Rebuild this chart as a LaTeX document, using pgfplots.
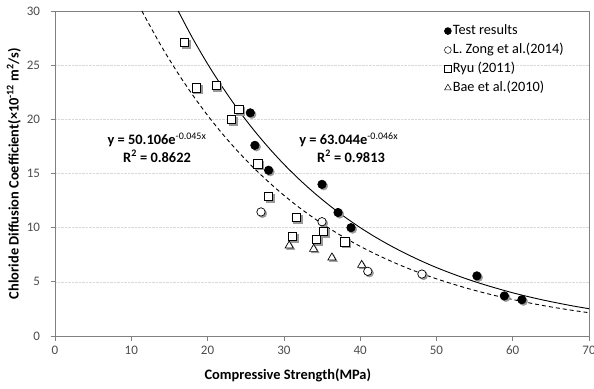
\documentclass[border=0pt]{standalone}
\usepackage{fontspec}
\setmainfont{Carlito}
\usepackage{pgfplots}
\usepackage{pgfplotstable}
\pgfplotsset{compat=1.18}

\pgfplotstableread{
x y
25.6 20.6
26.2 17.6
28.0 15.3
35.0 14.0
37.1 11.4
38.8 10.0
55.3 5.55
58.9 3.7
61.2 3.35
}\testdata
\pgfplotstableread{
x y
27.0 11.45
35.0 10.55
41.0 5.97
48.1 5.72
}\zongdata
\pgfplotstableread{
x y
17.0 27.1
18.5 22.9
21.1 23.1
24.1 20.9
23.1 20.0
26.6 15.9
28.0 12.9
31.6 10.95
31.1 9.2
35.2 9.63
34.3 8.93
38.0 8.7
}\ryudata
\pgfplotstableread{
x y
30.7 8.34
33.9 8.03
36.3 7.23
40.2 6.55
}\baedata
\pgfplotstableread{
x y
16.15 30.0
18 27.54
20 25.12
22 22.92
24 20.90
26 19.06
28 17.39
30 15.86
32 14.47
34 13.20
36 12.04
38 10.98
40 10.01
42 9.13
44 8.33
46 7.60
48 6.93
50 6.32
52 5.77
54 5.26
56 4.80
58 4.38
60 3.99
62 3.64
64 3.32
66 3.03
68 2.76
70 2.52
}\fitA
\pgfplotstableread{
x y
11.4 30.0
12 29.20
14 26.68
16 24.39
18 22.29
20 20.37
22 18.62
24 17.02
26 15.55
28 14.22
30 12.99
32 11.87
34 10.85
36 9.92
38 9.06
40 8.28
42 7.57
44 6.92
46 6.32
48 5.78
50 5.28
52 4.83
54 4.41
56 4.03
58 3.68
60 3.37
62 3.08
64 2.81
66 2.57
68 2.35
70 2.15
}\fitB

\begin{document}
\begin{tikzpicture}
\begin{axis}[
  scale only axis,
  width=534pt, height=325pt,
  xmin=0, xmax=70, ymin=0, ymax=30,
  xtick={0,10,...,70}, ytick={0,5,...,30},
  xtick pos=bottom, ytick pos=left,
  tick align=outside, major tick length=4.5pt,
  axis line style={black!50, line width=0.7pt},
  tick style={black!50, line width=0.7pt},
  ymajorgrids, grid style={densely dotted, black!15},
  /pgf/number format/assume math mode=true,
  ticklabel style={font=\fontsize{13}{15}\selectfont, text=black!70},
  xticklabel style={yshift=-2pt},
  yticklabel style={xshift=-7pt},
  xlabel={\textbf{Compressive Strength(MPa)}},
  ylabel={\textbf{Chloride Diffusion Coefficient(×10\textsuperscript{-12} m\textsuperscript{2}/s)}},
  label style={font=\fontsize{14.4}{16}\selectfont},
  xlabel style={at={(axis description cs:0.436,-0.12)}, anchor=center},
  ylabel style={at={(axis description cs:-0.077,0.5)}, anchor=center},
  legend style={draw=none, fill=none, inner sep=0pt, at={(0.729,0.962)}, anchor=north west,
    font=\fontsize{14.3}{16}\selectfont, row sep=4pt,
    nodes={inner xsep=1.5pt, inner ysep=1pt, text height=10pt, text depth=3pt}},
  legend cell align=left,
  legend image code/.code={\draw[#1] plot coordinates {(0pt,0pt)};},
]
\coordinate (ll) at (rel axis cs:0,0);
\coordinate (ur) at (rel axis cs:1,1);
% fits
\addplot[black, line width=0.9pt, smooth, forget plot] table[x=x,y=y] {\fitA};
\addplot[black, line width=0.9pt, dash pattern=on 4pt off 3pt, smooth, forget plot] table[x=x,y=y] {\fitB};
% shadows
\addplot[only marks, mark=*, mark size=4.2pt, draw=black!40, fill=black!40,
  mark options={xshift=1.6pt, yshift=-1.6pt}, forget plot] table[x=x,y=y] {\testdata};
\addplot[only marks, mark=*, mark size=4.2pt, draw=black!40, fill=black!40,
  mark options={xshift=1.6pt, yshift=-1.6pt}, forget plot] table[x=x,y=y] {\zongdata};
\addplot[only marks, mark=square*, mark size=4.1pt, draw=black!40, fill=black!40,
  mark options={xshift=1.6pt, yshift=-1.6pt}, forget plot] table[x=x,y=y] {\ryudata};
\addplot[only marks, mark=triangle*, mark size=4.7pt, draw=black!40, fill=black!40,
  mark options={xshift=1.6pt, yshift=-1.6pt}, forget plot] table[x=x,y=y] {\baedata};
% data
\addplot[only marks, mark=*, mark size=4.2pt, draw=black, fill=black, line width=0.7pt,
  legend image post style={mark size=3.4pt}] table[x=x,y=y] {\testdata};
\addlegendentry{Test results}
\addplot[only marks, mark=*, mark size=4.2pt, draw=black, fill=white, line width=0.7pt,
  legend image post style={mark size=3.4pt, line width=0.5pt}] table[x=x,y=y] {\zongdata};
\addlegendentry{L. Zong et al.(2014)}
\addplot[only marks, mark=square*, mark size=4.1pt, draw=black, fill=white, line width=0.7pt,
  legend image post style={mark size=3.3pt, line width=0.5pt}] table[x=x,y=y] {\ryudata};
\addlegendentry{Ryu (2011)}
\addplot[only marks, mark=triangle*, mark size=4.7pt, draw=black, fill=white, line width=0.7pt,
  legend image post style={mark size=3.9pt, line width=0.5pt}] table[x=x,y=y] {\baedata};
\addlegendentry{Bae et al.(2010)}
% equations
\node[font=\bfseries\fontsize{14.4}{16}\selectfont] at (axis cs:13.37,18.09) {y = 50.106e\textsuperscript{\mdseries -0.045x}};
\node[font=\bfseries\fontsize{14.4}{16}\selectfont] at (axis cs:13.37,16.6) {R\textsuperscript{2} = 0.8622};
\node[font=\bfseries\fontsize{14.4}{16}\selectfont] at (axis cs:38.5,18.09) {y = 63.044e\textsuperscript{\mdseries -0.046x}};
\node[font=\bfseries\fontsize{14.4}{16}\selectfont] at (axis cs:38.8,16.6) {R\textsuperscript{2} = 0.9813};
\end{axis}
\pgfresetboundingbox
\path ([xshift=-55pt,yshift=-52pt]ll) rectangle ([xshift=5pt,yshift=11pt]ur);
\end{tikzpicture}
\end{document}
